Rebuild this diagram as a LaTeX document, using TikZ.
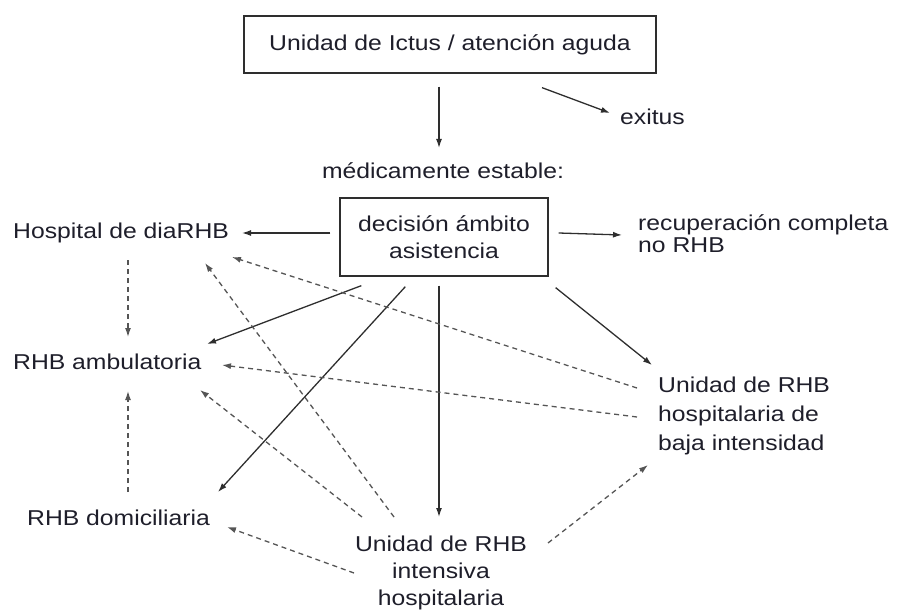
\documentclass[tikz,border=0pt]{standalone}
\usepackage{fontspec}
\setmainfont{Liberation Sans}[FakeStretch=1.15]
\usetikzlibrary{arrows.meta}
\definecolor{txt}{HTML}{1E1E2A}
\definecolor{solidln}{HTML}{2E2E2E}
\definecolor{dashln}{HTML}{555555}
\begin{document}
\begin{tikzpicture}[x=1pt,y=-1pt,
  font=\fontsize{21.5}{27}\selectfont,
  box/.style={draw=solidln,line width=1.3pt,inner sep=0pt,align=center,text=txt},
  lbl/.style={inner sep=0pt,text=txt},
  sarr/.style={draw=solidln,line width=1.3pt,-{Latex[length=9pt,width=6pt]}},
  darr/.style={draw=dashln,line width=1.3pt,dash pattern=on 5pt off 4pt,-{Latex[length=9pt,width=6pt]}}]
\useasboundingbox (0,0) rectangle (897,615);
% nodes
\node[box,minimum width=412pt,minimum height=57pt] (top) at (450,44.5) {Unidad de Ictus / atención aguda};
\node[lbl,anchor=west] (exitus) at (620,117) {exitus};
\node[lbl] (med) at (443,171) {médicamente estable:};
\node[box,minimum width=208pt,minimum height=78pt] (dec) at (444,237) {decisión ámbito\\asistencia};
\node[lbl,anchor=west,align=left] (rec) at (638,234) {recuperación completa\\[-5pt]no  RHB};
\node[lbl,anchor=west] (hosp) at (13,233) {Hospital de diaRHB};
\node[lbl,anchor=west] (amb) at (13,362) {RHB ambulatoria};
\node[lbl,anchor=west] (dom) at (27,518) {RHB domiciliaria};
\node[lbl,align=center] (int) at (441,573) {Unidad de RHB\\intensiva\\hospitalaria};
\node[lbl,anchor=west,align=left] (baja) at (658,416) {Unidad de RHB\\[2pt]hospitalaria de\\[2pt]baja intensidad};
% solid connectors
\draw[sarr] ([xshift=-11pt,yshift=-13pt]top.south) -- ([xshift=-4pt,yshift=23pt]med.center);
\draw[sarr] ([xshift=92pt,yshift=-14pt]top.south) -- ([xshift=-10pt,yshift=4pt]exitus.west);
\draw[sarr] ([xshift=-9pt,yshift=4pt]dec.west) -- ([xshift=229pt]hosp.west);
\draw[sarr] ([xshift=10pt,yshift=4pt]dec.east) -- ([xshift=-16pt,yshift=-1pt]rec.west);
\draw[sarr] ([xshift=22pt,yshift=-9pt]dec.south west) -- ([xshift=194pt,yshift=18pt]amb.west);
\draw[sarr] ([xshift=66pt,yshift=-10pt]dec.south west) -- ([xshift=191pt,yshift=26pt]dom.west);
\draw[sarr] ([xshift=-5pt,yshift=-9pt]dec.south) -- ([xshift=-2pt,yshift=56pt]int.center);
\draw[sarr] ([xshift=7pt,yshift=-11pt]dec.south east) -- ([xshift=-6pt,yshift=51pt]baja.west);
% dashed connectors
\draw[darr] ([xshift=115pt,yshift=-27pt]hosp.west) -- ([xshift=115pt,yshift=25pt]amb.west);
\draw[darr] ([xshift=101pt,yshift=26pt]dom.west) -- ([xshift=115pt,yshift=-29pt]amb.west);
\draw[darr] ([xshift=-21pt,yshift=28pt]baja.west) -- ([xshift=219pt,yshift=-24pt]hosp.west);
\draw[darr] ([xshift=-21pt,yshift=-1pt]baja.west) -- ([xshift=209pt,yshift=-3pt]amb.west);
\draw[darr] ([xshift=-47pt,yshift=56pt]int.center) -- ([xshift=192pt,yshift=-30pt]hosp.west);
\draw[darr] ([xshift=-79pt,yshift=56pt]int.center) -- ([xshift=187pt,yshift=-28pt]amb.west);
\draw[darr] ([xshift=-87pt]int.center) -- ([xshift=200pt,yshift=-9pt]dom.west);
\draw[darr] ([xshift=107pt,yshift=30pt]int.center) -- ([xshift=-10pt,yshift=-49pt]baja.west);
\end{tikzpicture}
\end{document}
